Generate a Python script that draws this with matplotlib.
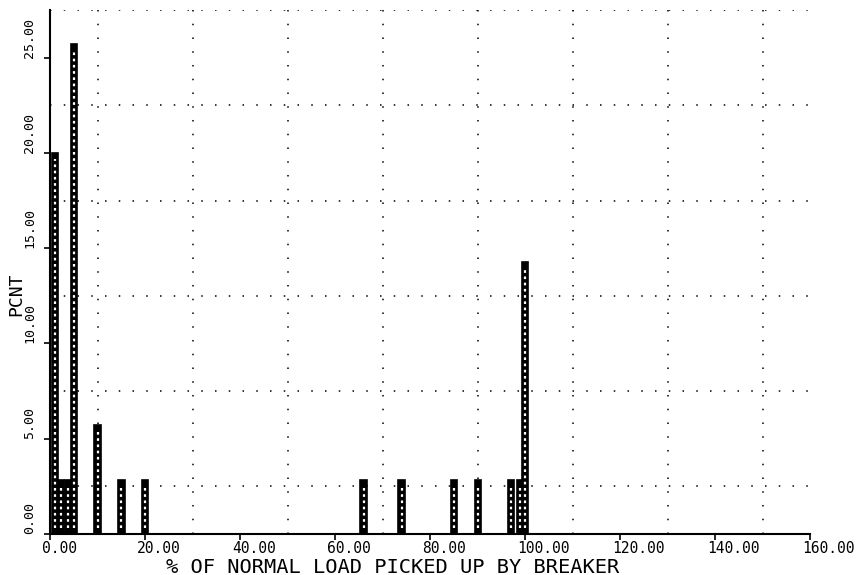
import numpy as np
import matplotlib
matplotlib.use("Agg")
from matplotlib import pyplot as plt

# data: percent of cases vs % of normal load picked up
load_pct = [1.0, 2.2, 3.8, 5.0, 10.0, 15.0, 20.0, 66.0, 74.0, 85.0, 90.0, 97.0, 99.0, 100.0]
pcnt = [20.00, 2.86, 2.86, 25.71, 5.71, 2.86, 2.86, 2.86, 2.86, 2.86, 2.86, 2.86, 2.86, 14.29]

xticks = [0, 20, 40, 60, 80, 100, 120, 140, 160]
yticks = [0, 5, 10, 15, 20, 25]

plt.rcParams['font.family'] = 'DejaVu Sans Mono'

fig = plt.figure(figsize=(8.63, 5.75), dpi=100)
ax = fig.add_axes([0.058, 0.0713, 0.881, 0.9113])

# plotter-style bars: dark outline with a chain of white dots inside
ax.bar(load_pct, pcnt, width=1.35, facecolor='black', edgecolor='black',
       linewidth=1.2, zorder=3)
ax.vlines(load_pct, 0.3, np.array(pcnt) - 0.3, colors='white',
          linestyles=(0, (1.2, 1.6)), linewidth=1.6, zorder=4)

ax.set_xlim(0, 160)
ax.set_ylim(0, 27.5)

# grid: every 10 in x, every 2.5 in y, dotted
ax.set_xticks(np.arange(0, 161, 10), minor=True)
ax.set_yticks(np.arange(0, 27.6, 2.5), minor=True)
ax.grid(True, which='minor', color='black', linestyle=(0, (1, 8)), linewidth=1.1)
ax.tick_params(which='minor', length=0)

# x tick labels start just left of the tick, like the plotter output
ax.set_xticks(xticks)
ax.set_xticklabels([])
for v in xticks:
    ax.annotate(f"{v:.2f}", xy=(v, 0), xycoords=('data', 'axes fraction'),
                xytext=(-5.8, -5), textcoords='offset points',
                ha='left', va='top', fontsize=10.5)

ax.set_yticks(yticks)
ax.set_yticklabels([f"{v:.2f}" for v in yticks], fontsize=9.5, rotation=90,
                   rotation_mode='anchor', ha='left', va='bottom')
ax.tick_params(axis='x', which='major', direction='out', length=4, width=1.2)
ax.tick_params(axis='y', which='major', direction='out', length=4, width=1.2, pad=6)

ax.spines['top'].set_visible(False)
ax.spines['right'].set_visible(False)
ax.spines['left'].set_linewidth(1.5)
ax.spines['bottom'].set_linewidth(1.5)

ax.set_ylabel('PCNT', fontsize=13)
ax.yaxis.set_label_coords(-0.033, 0.458)
ax.set_xlabel('% OF NORMAL LOAD PICKED UP BY BREAKER', fontsize=14.7)
ax.xaxis.set_label_coords(0.451, -0.045)

fig.savefig('out.png', dpi=100)
